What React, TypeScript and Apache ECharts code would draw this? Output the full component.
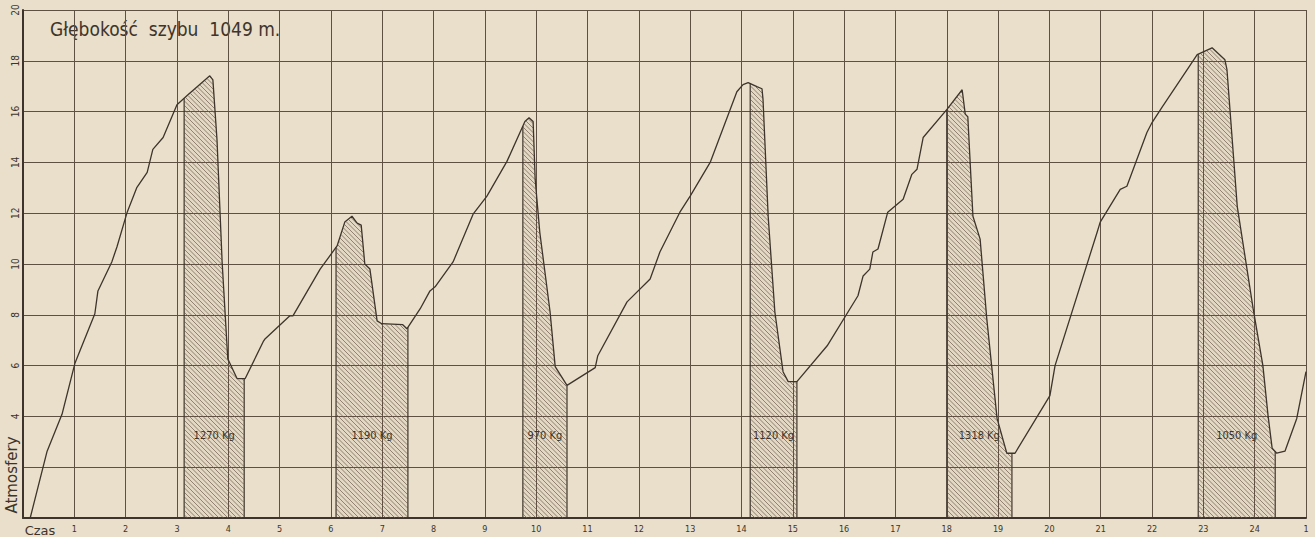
import React, { useEffect, useRef } from "react";
import * as echarts from "echarts";

// Time (hours) and pressure (atmospheres)
const czas = [
  0.14, 0.47, 0.76, 1.01, 1.4, 1.46, 1.73, 1.83, 2.03, 2.22, 2.42, 2.53, 2.73, 3.0, 3.22, 3.64, 3.7, 3.78, 3.88, 3.99,
  4.17, 4.33, 4.68, 4.72, 5.2, 5.26, 5.79,
  6.12, 6.27, 6.41, 6.51, 6.59, 6.66, 6.76, 6.9, 6.99, 7.4, 7.48, 7.74, 7.93, 8.03, 8.38, 8.77, 9.04, 9.43, 9.78, 9.86,
  9.94, 9.98, 10.07, 10.27, 10.37, 10.6, 11.15, 11.2, 11.77, 12.22,
  12.41, 12.8, 13.0, 13.39, 13.91, 14.03, 14.13, 14.3, 14.4, 14.42, 14.52, 14.65, 14.81, 14.91, 15.08, 15.67, 16.27,
  16.37, 16.5, 16.56, 16.66, 16.85, 17.15, 17.32, 17.42, 17.54, 18.0, 18.3, 18.36, 18.41, 18.51, 18.65, 18.78, 18.98,
  19.17, 19.33, 20.01, 20.11, 20.93, 20.99, 21.38, 21.51, 21.9, 22.0, 22.19, 22.88, 23.17, 23.42, 23.46, 23.66, 23.97,
  24.16, 24.26, 24.34, 24.43, 24.59, 24.82, 25.0,
];
const atmosfery = [
  0.0, 2.63, 4.08, 6.08, 8.04, 8.94, 10.08, 10.67, 12.04, 13.02, 13.61, 14.51, 14.98, 16.27, 16.67, 17.41, 17.25, 14.9,
  10.08, 6.27, 5.49, 5.49, 6.94, 7.06, 7.96, 7.96, 9.8,
  10.71, 11.65, 11.88, 11.61, 11.53, 10.0, 9.8, 7.76, 7.65, 7.61, 7.45, 8.24, 8.94, 9.1, 10.08, 11.96, 12.67, 14.04,
  15.61, 15.76, 15.61, 13.33, 11.25, 8.12, 5.96, 5.22, 5.92, 6.39, 8.51, 9.41,
  10.47, 12.04, 12.67, 14.0, 16.78, 17.06, 17.14, 16.98, 16.9, 16.47, 11.88, 8.12, 5.76, 5.37, 5.37, 6.78, 8.75, 9.53,
  9.8, 10.47, 10.59, 12.04, 12.55, 13.53, 13.73, 14.98, 16.08, 16.86, 15.9, 15.8, 11.88, 10.98, 7.84, 3.92, 2.55,
  2.55, 4.82, 6.0, 11.25, 11.65, 12.94, 13.06, 15.18, 15.57, 16.16, 18.24, 18.51, 18.04, 17.65, 12.27, 8.24, 6.0,
  4.04, 2.75, 2.55, 2.63, 3.92, 5.76,
];

// Hatched hoisting periods (hours) and loads
const hatchStart = [3.14, 6.1, 9.74, 14.17, 18.0, 22.9];
const hatchEnd = [4.31, 7.5, 10.6, 15.08, 19.27, 24.4];
const loadsKg = [1270, 1190, 970, 1120, 1318, 1050];
const loadLabelLevel = 3.25;

const xTickLabels = [
  "Czas", "1", "2", "3", "4", "5", "6", "7", "8", "9", "10", "11", "12", "13", "14", "15", "16", "17", "18",
  "19", "20", "21", "22", "23", "24", "1",
];
const yTickLabels: Record<number, string> = {
  0: "", 2: "", 4: "4", 6: "6", 8: "8", 10: "10", 12: "12", 14: "14", 16: "16", 18: "18", 20: "20",
};

const title = "Głębokość  szybu  1049 m.";
const yName = "Atmosfery";

const PAPER = "#e9dfca";
const INK = "#3e342b";
const GRID = "#5e5043";
const FONT = "'DejaVu Sans Condensed', 'DejaVu Sans', sans-serif";

function curveAt(x: number): number {
  if (x <= czas[0]) return atmosfery[0];
  for (let k = 1; k < czas.length; k++) {
    if (x <= czas[k]) {
      const t = (x - czas[k - 1]) / (czas[k] - czas[k - 1]);
      return atmosfery[k - 1] + t * (atmosfery[k] - atmosfery[k - 1]);
    }
  }
  return atmosfery[atmosfery.length - 1];
}

export default function App() {
  const ref = useRef<HTMLDivElement>(null);
  useEffect(() => {
    document.body.style.margin = "0";
    if (!ref.current) return;
    const chart = echarts.init(ref.current, undefined, { renderer: "svg" });

    const renderItem = (params: any, api: any) => {
      const i = params.dataIndex;
      const x0 = api.value(0) as number;
      const x1 = api.value(1) as number;
      const dataPts: number[][] = [[x0, curveAt(x0)]];
      for (let k = 0; k < czas.length; k++) {
        if (czas[k] > x0 && czas[k] < x1) dataPts.push([czas[k], atmosfery[k]]);
      }
      dataPts.push([x1, curveAt(x1)]);
      const top = dataPts.map((p) => api.coord(p));
      const bottomY = api.coord([x0, 0])[1];
      const xa = top[0][0];
      const xb = top[top.length - 1][0];
      const topY = (px: number) => {
        for (let k = 1; k < top.length; k++) {
          if (px <= top[k][0]) {
            const d = top[k][0] - top[k - 1][0];
            const t = d === 0 ? 0 : (px - top[k - 1][0]) / d;
            return top[k - 1][1] + t * (top[k][1] - top[k - 1][1]);
          }
        }
        return top[top.length - 1][1];
      };
      const children: any[] = [];
      children.push({
        type: "polygon",
        shape: { points: [...top, [xb, bottomY], [xa, bottomY]] },
        style: { fill: "rgba(120,95,70,0.05)", stroke: "none" },
      });
      const minTop = Math.min(...top.map((p: number[]) => p[1]));
      const step = 0.25;
      const hatch = (a: number[], b: number[]) =>
        children.push({
          type: "line",
          shape: { x1: a[0], y1: a[1], x2: b[0], y2: b[1] },
          style: { stroke: "#6a5a4b", lineWidth: 0.7 },
        });
      for (let c = Math.floor(minTop - xb); c <= bottomY - xa; c += 4.5) {
        let start: number[] | null = null;
        let prev: number[] | null = null;
        for (let px = xa + 0.5; px <= xb - 0.5 + 1e-6; px += step) {
          const py = px + c;
          const inside = py >= topY(px) + 0.6 && py <= bottomY;
          if (inside) {
            if (!start) start = [px, py];
            prev = [px, py];
          } else if (start && prev) {
            hatch(start, prev);
            start = null;
          }
        }
        if (start && prev) hatch(start, prev);
      }
      children.push({
        type: "line",
        shape: { x1: xa, y1: bottomY, x2: xa, y2: top[0][1] },
        style: { stroke: INK, lineWidth: 1.2 },
      });
      children.push({
        type: "line",
        shape: { x1: xb, y1: bottomY, x2: xb, y2: top[top.length - 1][1] },
        style: { stroke: INK, lineWidth: 1.2 },
      });
      const lp = api.coord([(x0 + x1) / 2, loadLabelLevel]);
      children.push({
        type: "text",
        x: lp[0],
        y: lp[1],
        style: {
          text: `${loadsKg[i]} Kg`,
          fill: INK,
          font: `11px ${FONT}`,
          align: "center",
          verticalAlign: "middle",
        },
      });
      return { type: "group", children };
    };

    chart.setOption({
      animation: false,
      backgroundColor: PAPER,
      grid: { left: 23, right: 9, top: 10, bottom: 19, containLabel: false },
      xAxis: {
        type: "value",
        min: 0,
        max: 25,
        interval: 1,
        axisLine: { show: true, lineStyle: { color: INK, width: 2 } },
        axisTick: { show: false },
        splitLine: { show: true, lineStyle: { color: GRID, width: 1 } },
        axisLabel: {
          margin: 6,
          color: INK,
          fontSize: 9,
          fontFamily: FONT,
          formatter: (v: number) => {
            const idx = Math.round(v);
            if (idx === 0) return "{czas|" + xTickLabels[0] + "}";
            return xTickLabels[idx] ?? "";
          },
          rich: {
            czas: { fontSize: 13, color: INK, fontFamily: "'DejaVu Sans', sans-serif", padding: [0, 0, 0, 34] },
          },
        },
      },
      yAxis: {
        type: "value",
        min: 0,
        max: 20,
        interval: 2,
        axisLine: { show: true, lineStyle: { color: INK, width: 2 } },
        axisTick: { show: false },
        splitLine: { show: true, lineStyle: { color: GRID, width: 1 } },
        axisLabel: {
          rotate: 90,
          margin: 3,
          color: INK,
          fontSize: 10,
          fontFamily: FONT,
          formatter: (v: number) => yTickLabels[Math.round(v)] ?? "",
        },
      },
      graphic: [
        {
          type: "text",
          left: 50,
          top: 19,
          style: { text: title, fill: INK, font: `19px ${FONT}` },
        },
        {
          type: "text",
          x: 12,
          y: 475,
          rotation: Math.PI / 2,
          style: {
            text: yName,
            fill: INK,
            font: `15px 'DejaVu Sans', sans-serif`,
            align: "center",
            verticalAlign: "middle",
          },
        },
      ],
      series: [
        {
          type: "custom",
          coordinateSystem: "cartesian2d",
          renderItem,
          clip: false,
          encode: { x: [0, 1], y: 2 },
          data: hatchStart.map((s, i) => [s, hatchEnd[i], 0]),
          z: 2,
        },
        {
          type: "line",
          data: czas.map((x, i) => [x, atmosfery[i]]),
          symbol: "none",
          lineStyle: { color: INK, width: 1.3 },
          z: 5,
        },
      ],
    });
    return () => chart.dispose();
  }, []);
  return <div ref={ref} style={{ width: 1315, height: 537 }} />;
}
